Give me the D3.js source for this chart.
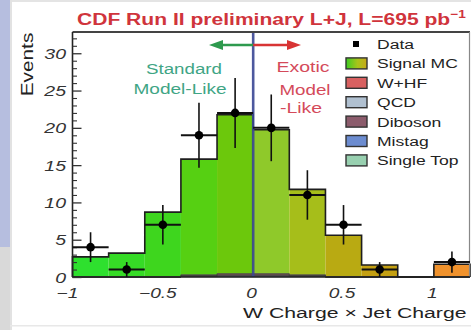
<!DOCTYPE html>
<html><head><meta charset="utf-8">
<script src="https://cdn.jsdelivr.net/npm/d3@7"></script>
<style>html,body{margin:0;padding:0;background:#fff;overflow:hidden}</style>
</head><body>
<script>
// ---- data ----
const binCenters = [-0.9,-0.7,-0.5,-0.3,-0.1,0.1,0.3,0.5,0.7,0.9,1.1];
const binHalfWidth = 0.1;
const dataCounts = [4,1,7,19,22,20,11,7,1,null,2];
const signalMC  = [2.7,3.2,8.7,15.5,21.3,19.3,11.45,5.6,1.6,0,1.7];
const wHF       = [0,0,0,0.1,0.15,0.15,0.1,0,0,0,0];
const qcd       = [0,0,0,0.05,0.05,0.05,0.05,0,0,0,0];
const diboson   = [0,0,0,0.05,0.1,0.1,0.05,0,0,0,0];
const mistag    = [0,0,0,0.05,0.1,0.1,0.05,0,0,0,0];
const singleTop = [0,0,0,0.05,0.05,0.05,0.05,0,0,0,0];
const xTicks = [-1,-0.5,0,0.5,1];
const xTickLabels = ["\u22121","\u22120.5","0","0.5","1"];
const yTicks = [0,5,10,15,20,25,30];
const legendLabels = ["Data","Signal MC","W+HF","QCD","Diboson","Mistag","Single Top"];

// ---- styles ----
const FONT = "'Liberation Sans', Arial, Helvetica, sans-serif";
const bkgColors = {singleTop:"#98d0b0", mistag:"#6c8cd0", diboson:"#8c5c6c", qcd:"#b0c0d0", wHF:"#d86060"};
const binColor = d3.scaleLinear()
  .domain([-0.9,-0.5,-0.3,-0.1,0.1,0.3,0.5,0.7,1.1])
  .range(["#2ee02e","#3ed61e","#56d012","#6cc80c","#8fc92a","#a6be1a","#b9aa12","#c4a012","#f0922c"]);

const W = 471, H = 330;
const svg = d3.select("body").append("svg").attr("width", W).attr("height", H)
  .style("font-family", FONT);

// page decorations
svg.append("rect").attr("x",0).attr("y",0).attr("width",W).attr("height",H).attr("fill","#ffffff");
svg.append("rect").attr("x",0).attr("y",0).attr("width",W).attr("height",2).attr("fill","#e4e4e4");
svg.append("rect").attr("x",0).attr("y",0).attr("width",10).attr("height",247).attr("fill","#b6bedf");
svg.append("rect").attr("x",0).attr("y",247).attr("width",10).attr("height",H-247).attr("fill","#d9d9d9");
svg.append("rect").attr("x",10).attr("y",0).attr("width",2).attr("height",H).attr("fill","#e2e2e2");
svg.append("rect").attr("x",10).attr("y",325).attr("width",W-10).attr("height",1.5).attr("fill","#e8e8e8");

// scales
const x = d3.scaleLinear().domain([-1, 1.2]).range([72.5, 470]);
const y = d3.scaleLinear().domain([0, 32.85]).range([277, 32]);

function stxt(parent, px, py, str, o) {
  const g = parent.append("g")
    .attr("transform", `translate(${px},${py})${o.rot ? ` rotate(${o.rot})` : ""} scale(${o.sx || 1},1)`);
  return g.append("text")
    .attr("font-size", o.size)
    .attr("text-anchor", o.anchor || "start")
    .attr("font-weight", o.weight || "normal")
    .attr("font-style", o.style || "normal")
    .attr("fill", o.fill || "#222")
    .text(str);
}

// stacked histogram
const keys = ["singleTop","mistag","diboson","qcd","wHF","signal"];
const rows = binCenters.map((c,i) => ({c, singleTop:singleTop[i], mistag:mistag[i], diboson:diboson[i], qcd:qcd[i], wHF:wHF[i], signal:signalMC[i]}));
const stacked = d3.stack().keys(keys)(rows);

const hist = svg.append("g");
stacked.forEach(layer => {
  hist.append("g").selectAll("rect").data(layer).join("rect")
    .attr("x", d => x(d.data.c - binHalfWidth))
    .attr("width", d => x(d.data.c + binHalfWidth) - x(d.data.c - binHalfWidth))
    .attr("y", d => y(d[1]))
    .attr("height", d => Math.max(0, y(d[0]) - y(d[1])))
    .attr("fill", d => layer.key === "signal" ? binColor(d.data.c) : bkgColors[layer.key]);
});
// outlines (step lines) for each layer top
function stepPath(tops) {
  let p = `M${x(-1)},${y(0)}`;
  tops.forEach((t,i) => {
    p += `V${y(t)}H${x(binCenters[i] + binHalfWidth)}`;
  });
  p += `V${y(0)}`;
  return p;
}
stacked.forEach(layer => {
  const tops = layer.map(d => d[1]);
  const isTop = layer.key === "signal";
  hist.append("path").attr("d", stepPath(tops)).attr("fill","none")
    .attr("stroke", isTop ? "#1e1e1e" : "#3a3a3a")
    .attr("stroke-width", isTop ? 1.6 : 0.8);
});

// vertical line at 0
svg.append("line").attr("x1", x(0)).attr("x2", x(0)).attr("y1", y(0)).attr("y2", y(32.85))
  .attr("stroke", "#3a4694").attr("stroke-width", 2.6).attr("stroke-opacity", 0.9);

// axes frame
const frame = svg.append("g");
frame.append("line").attr("x1", x(-1)).attr("x2", x(1.2)).attr("y1", y(32.85)).attr("y2", y(32.85))
  .attr("stroke","#444").attr("stroke-width",2);
frame.append("line").attr("x1", x(1.2)-0.5).attr("x2", x(1.2)-0.5).attr("y1", y(32.85)).attr("y2", y(0))
  .attr("stroke","#888").attr("stroke-width",1.2);
frame.append("line").attr("x1", x(-1)).attr("x2", x(1.2)).attr("y1", y(0)).attr("y2", y(0))
  .attr("stroke","#222").attr("stroke-width",1.6);

// y axis with inside ticks
const yAxis = d3.axisRight(y).tickValues(yTicks).tickSize(9).tickFormat("");
const yg = svg.append("g").attr("transform", `translate(${x(-1)},0)`).call(yAxis);
yg.select(".domain").attr("stroke","#222").attr("stroke-width",1.6).attr("d", `M0,${y(0)}V${y(32.85)}`);
yg.selectAll(".tick line").attr("stroke","#333").attr("stroke-width",1.3);
const yMinor = d3.axisRight(y).tickValues(d3.range(0, 33, 1).filter(v => v % 5 !== 0)).tickSize(4.5).tickFormat("");
const ym = svg.append("g").attr("transform", `translate(${x(-1)},0)`).call(yMinor);
ym.select(".domain").remove();
ym.selectAll(".tick line").attr("stroke","#333").attr("stroke-width",1.1);

// y tick labels
yTicks.forEach(v => stxt(svg, 66, y(v) + 5.5, String(v), {size:15, sx:1.3, anchor:"end", style:"italic", fill:"#333"}));
// x tick labels
xTicks.forEach((v,i) => stxt(svg, x(v) - (v < 0 ? 5 : 1.5), 298, xTickLabels[i], {size:14.5, sx:1.32, anchor:"middle", style:"italic", fill:"#333"}));

// axis titles
stxt(svg, 243, 318, "W Charge \u00d7 Jet Charge", {size:15.5, sx:1.37, fill:"#222"});
stxt(svg, 33, 64.5, "Events", {size:16, sx:1.3, rot:-90, anchor:"middle", fill:"#222"});

// title
const title = stxt(svg, 77, 25, "", {size:17, sx:1.24, weight:"bold", fill:"#d0343c"});
title.append("tspan").text("CDF Run II preliminary L+J, L=695 pb");
title.append("tspan").attr("font-size", 11).attr("dy", -7).text("\u22121");

// arrows
const arrows = svg.append("g");
arrows.append("line").attr("x1", x(0)).attr("x2", 221).attr("y1", 45).attr("y2", 45)
  .attr("stroke","#2e9a4e").attr("stroke-width",2.4);
arrows.append("path").attr("d", "M209,45L223,40L223,50Z").attr("fill","#2e9a4e");
arrows.append("line").attr("x1", x(0)).attr("x2", 289).attr("y1", 45).attr("y2", 45)
  .attr("stroke","#d83434").attr("stroke-width",2.4);
arrows.append("path").attr("d", "M301,45L287,40L287,50Z").attr("fill","#d83434");

// region texts
stxt(svg, 184, 74, "Standard", {size:15, sx:1.25, anchor:"middle", fill:"#3fa585"});
stxt(svg, 180, 94, "Model-Like", {size:15, sx:1.27, anchor:"middle", fill:"#3fa585"});
stxt(svg, 303, 72, "Exotic", {size:15, sx:1.3, anchor:"middle", fill:"#d44a5a"});
stxt(svg, 305, 95, "Model", {size:15, sx:1.25, anchor:"middle", fill:"#d44a5a"});
stxt(svg, 301, 113, "-Like", {size:15, sx:1.3, anchor:"middle", fill:"#d44a5a"});

// data points
const pts = svg.append("g");
binCenters.forEach((c,i) => {
  const n = dataCounts[i];
  if (n === null) return;
  const e = Math.sqrt(n);
  pts.append("line").attr("x1", x(c - binHalfWidth)).attr("x2", x(c + binHalfWidth))
    .attr("y1", y(n)).attr("y2", y(n)).attr("stroke","#111").attr("stroke-width",2);
  pts.append("line").attr("x1", x(c)).attr("x2", x(c))
    .attr("y1", y(Math.max(0, n - e))).attr("y2", y(n + e)).attr("stroke","#111").attr("stroke-width",1.6);
  pts.append("circle").attr("cx", x(c)).attr("cy", y(n)).attr("r", 4.3).attr("fill","#000");
});

// legend
const defs = svg.append("defs");
const grad = defs.append("linearGradient").attr("id","sigGrad");
grad.append("stop").attr("offset","0%").attr("stop-color","#3ccc22");
grad.append("stop").attr("offset","55%").attr("stop-color","#a8c41a");
grad.append("stop").attr("offset","100%").attr("stop-color","#c8a818");
const legendFills = [null, "url(#sigGrad)", bkgColors.wHF, bkgColors.qcd, bkgColors.diboson, bkgColors.mistag, bkgColors.singleTop];
const lg = svg.append("g");
legendLabels.forEach((lab,i) => {
  const cy = 44 + i * 19.4;
  if (i === 0) {
    lg.append("rect").attr("x", 353).attr("y", cy - 3).attr("width", 6).attr("height", 6).attr("fill","#000");
  } else {
    lg.append("rect").attr("x", 346).attr("y", cy - 5.5).attr("width", 21).attr("height", 11)
      .attr("fill", legendFills[i]).attr("stroke","#333").attr("stroke-width",1.4);
  }
  stxt(lg, 377, cy + 5, lab, {size:13.5, sx:1.3, fill:"#222"});
});
</script>
</body></html>
